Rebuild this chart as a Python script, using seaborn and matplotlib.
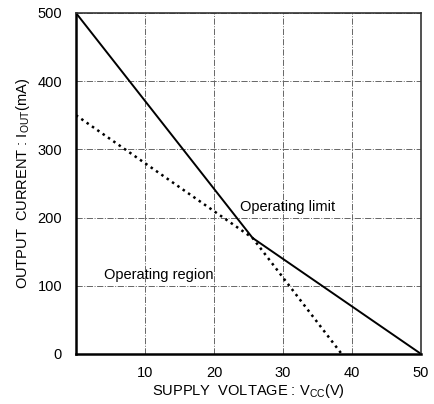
import numpy as np
import pandas as pd
import seaborn as sns
import matplotlib.pyplot as plt

# operating limit (solid) and derated line (dotted)
limit_v = [0, 25.6, 50]
limit_i = [500, 170, 0]
derate_v = [0, 25.6, 38.5]
derate_i = [350, 170, 0]
x_ticks = [10, 20, 30, 40, 50]
y_ticks = [0, 100, 200, 300, 400, 500]

sns.set_style('white')
plt.rcParams['font.family'] = ['Liberation Sans', 'DejaVu Sans']
plt.rcParams['mathtext.fontset'] = 'custom'
plt.rcParams['mathtext.rm'] = 'Liberation Sans'

fig, ax = plt.subplots(figsize=(4.34, 4.04), dpi=100)
fig.subplots_adjust(left=0.175, right=0.97, top=0.968, bottom=0.124)

df_lim = pd.DataFrame({'v': limit_v, 'i': limit_i})
df_der = pd.DataFrame({'v': derate_v, 'i': derate_i})
sns.lineplot(data=df_lim, x='v', y='i', ax=ax, color='black', lw=1.4, sort=False)
sns.lineplot(data=df_der, x='v', y='i', ax=ax, color='black', lw=1.8,
             linestyle=(0, (1, 1.6)), sort=False)

ax.set_xlim(0, 50)
ax.set_ylim(0, 500)
ax.set_xticks(x_ticks)
ax.set_yticks(y_ticks)
ax.grid(True, color='#666666', lw=0.7, linestyle='-.')
ax.tick_params(length=0, labelsize=10.5, colors='black')
ax.tick_params(axis='y', pad=10)
ax.tick_params(axis='x', pad=9)

for s in ['left', 'bottom']:
    ax.spines[s].set_linewidth(1.8)
    ax.spines[s].set_color('black')
for s in ['top', 'right']:
    ax.spines[s].set_linewidth(1.2)
    ax.spines[s].set_color('#333333')

ax.set_xlabel(r'SUPPLY  VOLTAGE : V$_{\rm CC}$(V)', fontsize=10.5, labelpad=1, color='black')
ax.set_ylabel(r'OUTPUT  CURRENT : I$_{\rm OUT}$(mA)', fontsize=10.5, labelpad=4, color='black')

ax.text(23.8, 215, 'Operating limit', fontsize=10.5, va='center', ha='left', color='black')
ax.text(4.0, 116, 'Operating region', fontsize=10.5, va='center', ha='left', color='black')

fig.savefig('out.png', dpi=100)
